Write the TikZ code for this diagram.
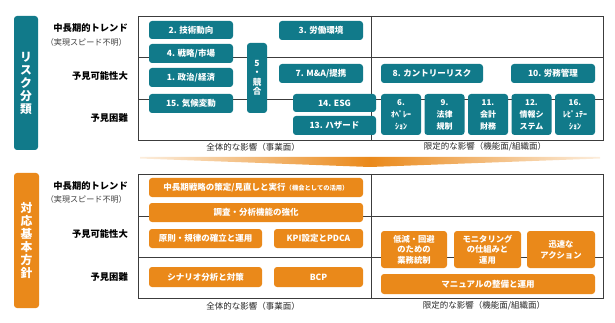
\documentclass[tikz,border=0pt]{standalone}
\usepackage{fontspec}
\setmainfont{Noto Sans CJK JP}
\definecolor{tealc}{RGB}{17,122,138}
\definecolor{orgc}{RGB}{234,137,26}
\definecolor{gridc}{RGB}{60,60,60}
\begin{document}
\begin{tikzpicture}[x=1pt,y=-1pt,
  box/.style={rounded corners=3pt, inner sep=0pt, text=white, align=center,
              font=\bfseries\fontsize{8.5}{10.5}\selectfont},
  tbox/.style={box, fill=tealc},
  obox/.style={box, fill=orgc},
  sz/.style 2 args={minimum width=#1pt, minimum height=#2pt},
  rowlab/.style={anchor=east, inner sep=0pt, font=\bfseries\fontsize{9.3}{11}\selectfont},
  sublab/.style={anchor=east, inner sep=0pt, text=black!75, font=\fontsize{8.1}{9}\selectfont},
  axlab/.style={inner sep=0pt, text=black!85, font=\fontsize{8.5}{9}\selectfont},
  gridline/.style={draw=gridc, line width=0.8pt},
  sidelab/.style={rounded corners=3pt, inner sep=0pt, text=white, align=center,
              font=\bfseries\fontsize{11.8}{13}\selectfont}
]
\useasboundingbox (0,0) rectangle (615,323);

% ===== Top section: risk classification =====
\node[sidelab, fill=tealc, sz={24}{134}] (rk) at (26,83) {リ\\ス\\ク\\分\\類};

\node[rowlab] (r1) at (128,28) {中長期的トレンド};
\node[sublab] (r1s) at (127,42) {（実現スピード不明）};
\node[rowlab] (r2) at (128,76) {予見可能性大};
\node[rowlab] (r3) at (128,118) {予見困難};

\draw[gridline] (138,16) rectangle (603,140);
\draw[gridline] (371,16) -- (371,140);
\draw[gridline] (138,57) -- (603,57);
\draw[gridline] (138,99) -- (603,99);

\node[tbox, sz={84}{18}] (t2) at (191,30) {2. 技術動向};
\node[tbox, sz={84}{19}] (t4) at (191,53.5) {4. 戦略/市場};
\node[tbox, sz={84}{19}] (t1) at (191,77.5) {1. 政治/経済};
\node[tbox, sz={84}{19}] (t15) at (191,103.5) {15. 気候変動};
\node[tbox, sz={20}{70}, font=\bfseries\fontsize{8.5}{9.5}\selectfont] (t5) at (257,78) {5\\・\\競\\合};
\node[tbox, sz={84}{19}] (t3) at (321,30.5) {3. 労働環境};
\node[tbox, sz={84}{19}] (t7) at (321,73.5) {7. M\&A/提携};
\node[tbox, sz={83}{18}] (t14) at (334.5,103) {14. ESG};
\node[tbox, sz={83}{19}] (t13) at (334.5,125.5) {13. ハザード};
\node[tbox, sz={102}{19}] (t8) at (432,73.5) {8. カントリーリスク};
\node[tbox, sz={84}{19}] (t10) at (553,73.5) {10. 労務管理};
\node[tbox, sz={40}{41}, font=\bfseries\fontsize{8}{12}\selectfont] (t6) at (401,114.5) {6.\\ｵﾍﾟﾚｰ\\ｼｮﾝ};
\node[tbox, sz={40}{41}, font=\bfseries\fontsize{8}{12}\selectfont] (t9) at (444.5,114.5) {9.\\法律\\規制};
\node[tbox, sz={40}{41}, font=\bfseries\fontsize{8}{12}\selectfont] (t11) at (488,114.5) {11.\\会計\\財務};
\node[tbox, sz={40}{41}, font=\bfseries\fontsize{8}{12}\selectfont] (t12) at (531.5,114.5) {12.\\情報シ\\ステム};
\node[tbox, sz={40}{41}, font=\bfseries\fontsize{8}{12}\selectfont] (t16) at (575,114.5) {16.\\ﾚﾋﾟｭﾃｰ\\ｼｮﾝ};

\node[axlab] (ax1) at (253,147) {全体的な影響（事業面）};
\node[axlab] (ax2) at (485,147) {限定的な影響（機能面/組織面）};

% ===== Banner arrow =====
\shade[left color=orgc!15, right color=orgc!15, middle color=orgc]
  (140,157) -- (600,157) -- (600,158.5) -- (370,167) -- (140,158.5) -- cycle;

% ===== Bottom section: basic policy =====
\node[sidelab, fill=orgc, sz={25}{135}] (pk) at (26.5,240.5) {対\\応\\基\\本\\方\\針};

\node[rowlab] (p1) at (128,186) {中長期的トレンド};
\node[sublab] (p1s) at (127,199) {（実現スピード不明）};
\node[rowlab] (p2) at (128,234) {予見可能性大};
\node[rowlab] (p3) at (128,277) {予見困難};

\draw[gridline] (138,174) rectangle (603,298);
\draw[gridline] (371,174) -- (371,298);
\draw[gridline] (138,216) -- (603,216);
\draw[gridline] (138,257) -- (603,257);

\node[obox, sz={214}{19}] (o1) at (256,187.5) {中長期戦略の策定/見直しと実行{\fontsize{6.3}{7}\selectfont（機会としての活用）}};
\node[obox, sz={214}{19}] (o2) at (256,212.5) {調査・分析機能の強化};
\node[obox, sz={113}{19}] (o3) at (205.5,238.5) {原則・規律の確立と運用};
\node[obox, sz={89}{19}] (o4) at (318.5,238.5) {KPI設定とPDCA};
\node[obox, sz={113}{20}] (o5) at (205.5,277) {シナリオ分析と対策};
\node[obox, sz={89}{20}] (o6) at (318.5,277) {BCP};
\node[obox, sz={66}{37}, font=\bfseries\fontsize{8.3}{10.5}\selectfont] (o7) at (414,249.5) {低減・回避\\のための\\業務統制};
\node[obox, sz={67}{37}, font=\bfseries\fontsize{8.3}{10.5}\selectfont] (o8) at (487.5,249.5) {モニタリング\\の仕組みと\\運用};
\node[obox, sz={68}{37}, font=\bfseries\fontsize{8.3}{11}\selectfont] (o9) at (561,249.5) {迅速な\\アクション};
\node[obox, sz={214}{20}] (o10) at (488,284) {マニュアルの整備と運用};

\node[axlab] (ax3) at (253,306) {全体的な影響（事業面）};
\node[axlab] (ax4) at (484,306) {限定的な影響（機能面/組織面）};
\end{tikzpicture}
\end{document}
